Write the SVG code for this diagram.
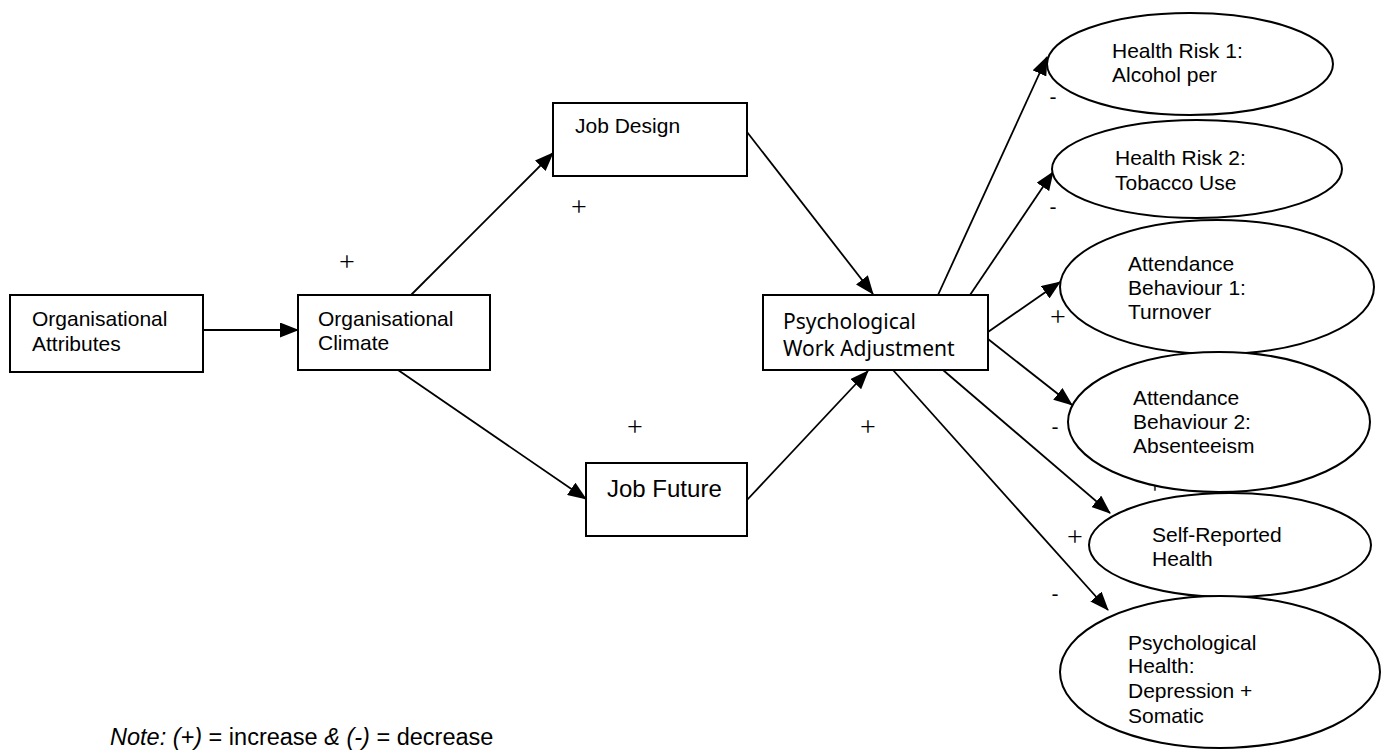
<svg xmlns="http://www.w3.org/2000/svg" width="1386" height="753" viewBox="0 0 1386 753">
  <style>
    .box { fill: #fff; stroke: #000; stroke-width: 2; }
    .oval { fill: #fff; stroke: #000; stroke-width: 2; }
    .lbl { font-family: "Liberation Sans", Arial, sans-serif; font-size: 21px; fill: #000; }
    .cal { font-family: "Noto Sans", "Open Sans", sans-serif; font-size: 21px; fill: #000; }
    .plus { font-family: "Liberation Serif", "Times New Roman", serif; font-size: 28px; fill: #000; text-anchor: middle; }
    .minus { font-family: "Liberation Sans", Arial, sans-serif; font-size: 21px; fill: #000; text-anchor: middle; }
    .edge { stroke: #000; stroke-width: 1.8; fill: none; marker-end: url(#arrow); }
    .note { font-family: "Liberation Sans", Arial, sans-serif; font-size: 23.5px; fill: #000; }
  </style>
  <defs>
    <marker id="arrow" markerUnits="userSpaceOnUse" markerWidth="19" markerHeight="15" viewBox="0 0 19 15" refX="18" refY="7.5" orient="auto">
      <path d="M0,0 L19,7.5 L0,15 Z" fill="#000"/>
    </marker>
  </defs>

  <rect width="1386" height="753" fill="#fff"/>

  <!-- sign labels on the paths -->
  <g id="signs">
    <text class="plus" x="347" y="271">+</text>
    <text class="plus" x="579" y="216">+</text>
    <text class="plus" x="635" y="436">+</text>
    <text class="plus" x="868" y="436">+</text>
    <text class="plus" x="1058" y="326">+</text>
    <text class="plus" x="1155" y="494">+</text>
    <text class="plus" x="1075" y="546">+</text>
    <text class="minus" x="1053" y="104">-</text>
    <text class="minus" x="1053" y="214">-</text>
    <text class="minus" x="1055" y="434">-</text>
    <text class="minus" x="1055" y="601">-</text>
  </g>

  <!-- connectors -->
  <g id="connectors">
    <line class="edge" x1="203" y1="330" x2="298" y2="330"/>
    <line class="edge" x1="411" y1="295" x2="553" y2="153"/>
    <line class="edge" x1="398" y1="370" x2="586" y2="499"/>
    <line class="edge" x1="747" y1="132" x2="873" y2="294"/>
    <line class="edge" x1="747" y1="500" x2="868" y2="371"/>
    <line class="edge" x1="938" y1="295" x2="1047" y2="57"/>
    <line class="edge" x1="970" y1="295" x2="1053" y2="172"/>
    <line class="edge" x1="988" y1="332" x2="1060" y2="282"/>
    <line class="edge" x1="988" y1="339" x2="1072" y2="405"/>
    <line class="edge" x1="943" y1="370" x2="1110" y2="513"/>
    <line class="edge" x1="893" y1="370" x2="1108" y2="610"/>
  </g>

  <g id="org-attributes">
    <rect class="box" x="10" y="295" width="193" height="77"/>
    <text class="lbl" x="32" y="326">Organisational</text>
    <text class="lbl" x="32" y="351">Attributes</text>
  </g>

  <g id="org-climate">
    <rect class="box" x="298" y="295" width="192" height="75"/>
    <text class="lbl" x="318" y="326">Organisational</text>
    <text class="lbl" x="318" y="350">Climate</text>
  </g>

  <g id="job-design">
    <rect class="box" x="553" y="103" width="194" height="73"/>
    <text class="lbl" x="575" y="133">Job Design</text>
  </g>

  <g id="job-future">
    <rect class="box" x="586" y="463" width="161" height="73"/>
    <text class="lbl" x="607" y="497" style="font-size:24px">Job Future</text>
  </g>

  <g id="work-adjustment">
    <rect class="box" x="763" y="295" width="225" height="75"/>
    <text class="cal" x="783" y="329">Psychological</text>
    <text class="cal" x="783" y="356">Work Adjustment</text>
  </g>

  <g id="health-risk-1">
    <ellipse class="oval" cx="1190" cy="64" rx="143" ry="51"/>
    <text class="lbl" x="1112" y="58">Health Risk 1:</text>
    <text class="lbl" x="1112" y="82">Alcohol  per</text>
  </g>

  <g id="health-risk-2">
    <ellipse class="oval" cx="1197" cy="169" rx="145" ry="49"/>
    <text class="lbl" x="1115" y="165">Health Risk 2:</text>
    <text class="lbl" x="1115" y="190">Tobacco Use</text>
  </g>

  <g id="attendance-1">
    <ellipse class="oval" cx="1217" cy="287" rx="157" ry="67"/>
    <text class="lbl" x="1128" y="271">Attendance</text>
    <text class="lbl" x="1128" y="295">Behaviour 1:</text>
    <text class="lbl" x="1128" y="319">Turnover</text>
  </g>

  <g id="attendance-2">
    <ellipse class="oval" cx="1219" cy="422" rx="151" ry="70"/>
    <text class="lbl" x="1133" y="405">Attendance</text>
    <text class="lbl" x="1133" y="429">Behaviour 2:</text>
    <text class="lbl" x="1133" y="453">Absenteeism</text>
  </g>

  <g id="self-reported-health">
    <ellipse class="oval" cx="1230" cy="545" rx="141" ry="52"/>
    <text class="lbl" x="1152" y="542">Self-Reported</text>
    <text class="lbl" x="1152" y="566">Health</text>
  </g>

  <g id="psychological-health">
    <ellipse class="oval" cx="1220" cy="672" rx="160" ry="76"/>
    <text class="lbl" x="1128" y="650">Psychological</text>
    <text class="lbl" x="1128" y="673">Health:</text>
    <text class="lbl" x="1128" y="698">Depression +</text>
    <text class="lbl" x="1128" y="723">Somatic</text>
  </g>

  <g id="note">
    <text class="note" x="110" y="745"><tspan font-style="italic">Note: (+)</tspan> = increase <tspan font-style="italic">&amp; (-)</tspan> = decrease</text>
  </g>
</svg>
